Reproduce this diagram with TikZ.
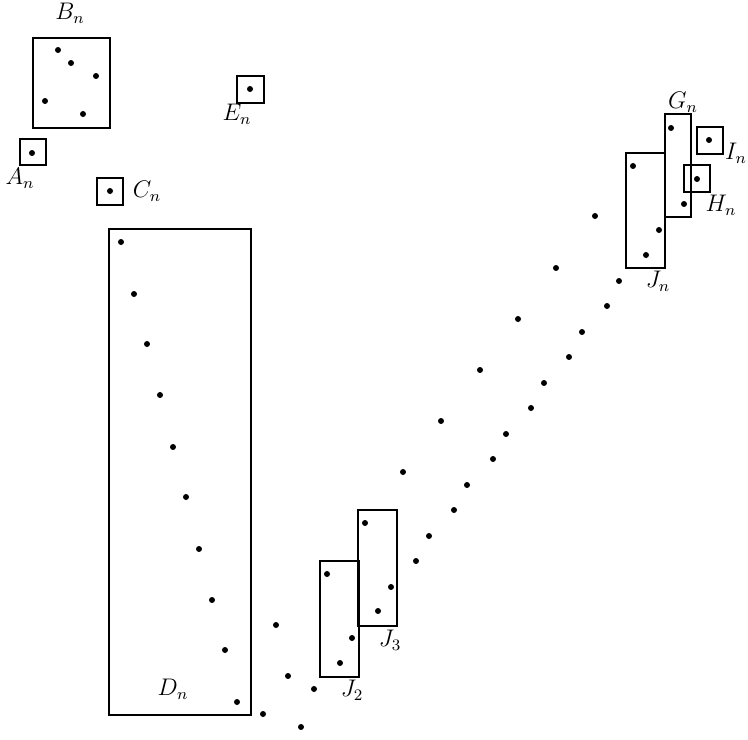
\documentclass[tikz,border=0pt]{standalone}
\begin{document}
\begin{tikzpicture}[x=0.5pt,y=-0.5pt,
  frame/.style={draw=black,line width=0.9pt},
  pt/.style={fill=black},
  lab/.style={inner sep=0pt,font=\fontsize{12}{14}\selectfont}]
\useasboundingbox (0,0) rectangle (748,739);
\def\dotr{1.5pt}
% boxes
\draw[frame] (33,38) rectangle (110,128);   % B_n
\draw[frame] (20,139) rectangle (46,165);   % A_n
\draw[frame] (97,178) rectangle (123,205);  % C_n
\draw[frame] (237,76) rectangle (264,103);  % E_n
\draw[frame] (109,229) rectangle (251,715); % D_n
\draw[frame] (320,561) rectangle (359,677); % J_2
\draw[frame] (358,510) rectangle (397,626); % J_3
\draw[frame] (626,153) rectangle (665,268); % J_n
\draw[frame] (665,114) rectangle (691,217); % G_n
\draw[frame] (697,127) rectangle (723,154); % I_n
\draw[frame] (684,165) rectangle (710,192); % H_n
% points
\foreach \p in {(58,50),(71,63),(96,76),(45,101),(83,114),
  (32,153),(110,191),(250,89),
  (121,242),(134,294),(147,344),(160,395),(173,447),
  (186,497),(199,549),(212,600),(225,650),(237,702),
  (263,714),(276,625),(288,676),(301,727),(314,689),
  (327,574),(352,638),(340,663),
  (365,523),(391,587),(378,611),
  (416,561),(429,536),(454,510),(467,485),(493,459),(506,434),
  (531,408),(544,383),(569,357),(582,332),(607,306),(619,281),
  (403,472),(441,421),(480,370),(518,319),(556,268),(595,216),
  (633,166),(659,230),(646,255),
  (671,128),(684,204),(709,140),(697,179)}
  \fill[pt] \p circle (\dotr);
% labels
\node[lab] (lB) at (70,13) {$B_n$};
\node[lab] (lA) at (20,178) {$A_n$};
\node[lab] (lC) at (147,191) {$C_n$};
\node[lab] (lE) at (237,114) {$E_n$};
\node[lab] (lD) at (173,689) {$D_n$};
\node[lab] (lJ2) at (352,690) {$J_2$};
\node[lab] (lJ3) at (390,640) {$J_3$};
\node[lab] (lJn) at (658,281) {$J_n$};
\node[lab] (lG) at (683,102) {$G_n$};
\node[lab] (lI) at (736,153) {$I_n$};
\node[lab] (lH) at (721,205) {$H_n$};
\end{tikzpicture}
\end{document}
